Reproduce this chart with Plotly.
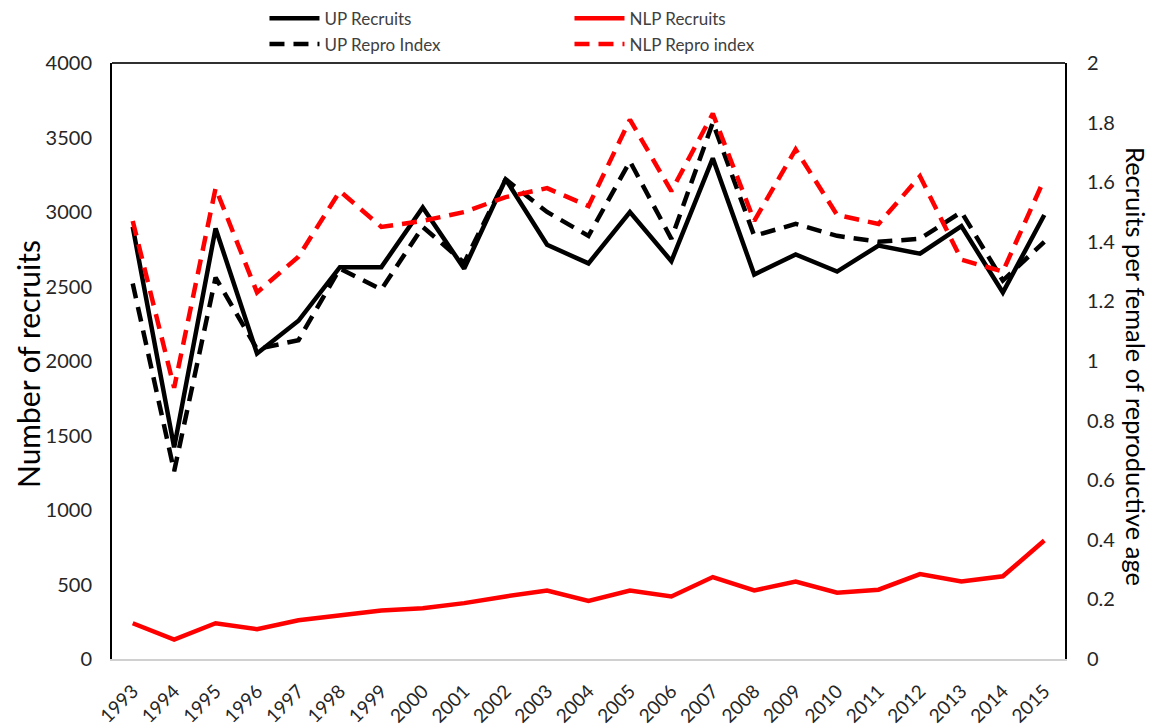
import plotly.graph_objects as go

years = [str(y) for y in range(1993, 2016)]
up_recruits = [2900, 1420, 2890, 2050, 2270, 2630, 2630, 3030, 2620, 3220, 2780, 2655, 3000, 2670,
               3360, 2580, 2715, 2600, 2775, 2720, 2905, 2460, 2980]
nlp_recruits = [240, 130, 240, 200, 260, 295, 325, 340, 375, 420, 460, 390, 460, 420,
                550, 460, 520, 445, 465, 570, 520, 555, 795]
up_repro = [1.26, 0.63, 1.28, 1.04, 1.07, 1.31, 1.24, 1.45, 1.33, 1.61, 1.50, 1.42, 1.67, 1.41,
            1.80, 1.42, 1.46, 1.42, 1.40, 1.41, 1.50, 1.27, 1.40]
nlp_repro = [1.47, 0.91, 1.58, 1.23, 1.35, 1.57, 1.45, 1.47, 1.50, 1.55, 1.58, 1.52, 1.81, 1.57,
             1.83, 1.47, 1.71, 1.49, 1.46, 1.62, 1.34, 1.30, 1.61]

left_ticks = list(range(0, 4001, 500))
right_ticks = [0, 0.2, 0.4, 0.6, 0.8, 1, 1.2, 1.4, 1.6, 1.8, 2]
right_labels = ["0", "0.2", "0.4", "0.6", "0.8", "1", "1.2", "1.4", "1.6", "1.8", "2"]

FONT = "Lato"
TICK = "#262626"
fig = go.Figure()
fig.add_trace(go.Scatter(x=years, y=up_recruits, name="UP Recruits", mode="lines",
                         line=dict(color="black", width=4.5), legend="legend"))
fig.add_trace(go.Scatter(x=years, y=nlp_recruits, name="NLP Recruits", mode="lines",
                         line=dict(color="#ff0000", width=4.5), legend="legend"))
fig.add_trace(go.Scatter(x=years, y=up_repro, name="UP Repro Index", mode="lines", yaxis="y2",
                         line=dict(color="black", width=4.5, dash="15px,9px"), legend="legend2"))
fig.add_trace(go.Scatter(x=years, y=nlp_repro, name="NLP Repro index", mode="lines", yaxis="y2",
                         line=dict(color="#ff0000", width=4.5, dash="15px,9px"), legend="legend2"))

legend_common = dict(orientation="h", xanchor="left", x=0.16, yanchor="middle",
                     entrywidth=240, entrywidthmode="pixels",
                     font=dict(family=FONT, size=17, color="#404040"),
                     bgcolor="rgba(0,0,0,0)", itemwidth=50, tracegroupgap=0)
fig.update_layout(
    width=1148, height=720,
    margin=dict(l=104, r=91, t=55, b=69, autoexpand=False),
    paper_bgcolor="white", plot_bgcolor="white",
    font=dict(family=FONT, size=20, color=TICK),
    legend=dict(**legend_common, y=1.0745),
    legend2=dict(**legend_common, y=1.031),
    xaxis=dict(type="category", range=[-0.5, 22.5], showgrid=False, showline=True,
               linecolor="#d0d0d0", linewidth=1.5, ticklabelstandoff=12,
               tickangle=-45, ticks="", tickfont=dict(family=FONT, size=19, color=TICK),
               zeroline=False),
    yaxis=dict(range=[0, 4000], tickvals=left_ticks, showgrid=False, showline=True,
               linecolor="black", linewidth=2, ticks="", zeroline=False, ticklabelstandoff=14,
               tickfont=dict(family=FONT, size=20, color=TICK)),
    yaxis2=dict(range=[0, 2], tickvals=right_ticks, ticktext=right_labels, overlaying="y", side="right",
                showgrid=False, showline=True, linecolor="black", linewidth=2, ticks="", zeroline=False,
                ticklabelstandoff=16,
                tickfont=dict(family=FONT, size=20, color=TICK)),
    shapes=[dict(type="line", xref="paper", yref="paper", x0=0, x1=1, y0=1, y1=1,
                 line=dict(color="#303030", width=2))],
    annotations=[
        dict(text="Number of recruits", xref="paper", yref="paper",
             x=0.0, xshift=-84, xanchor="center", y=0.5, yshift=-3, textangle=-90, showarrow=False,
             font=dict(family=FONT, size=30, color="black")),
        dict(text="Recruits per female of reproductive age", xref="paper", yref="paper",
             x=1.0, xshift=71, xanchor="center", y=0.5, yshift=-5, textangle=90, showarrow=False,
             font=dict(family=FONT, size=25.5, color="black")),
    ],
)

fig.write_html("out.html")
